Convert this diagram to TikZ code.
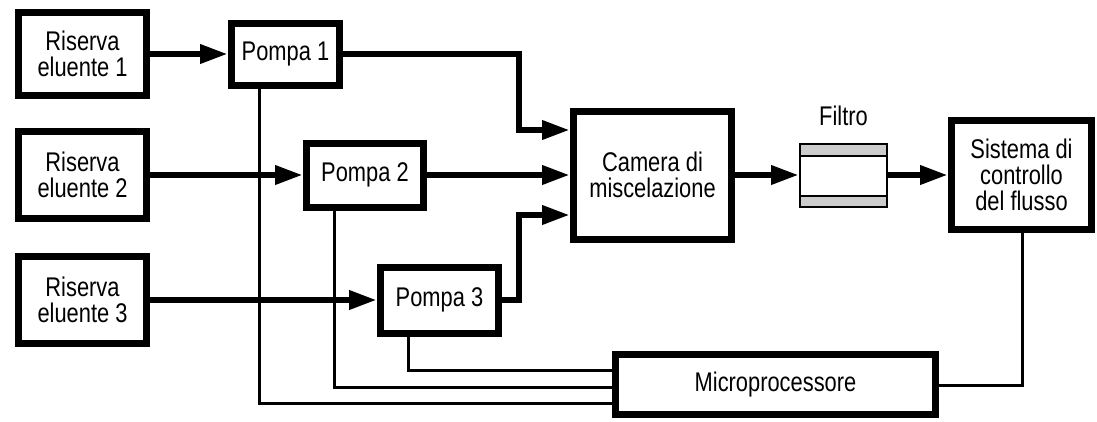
\documentclass[tikz,border=0pt]{standalone}
\usepackage{fontspec}
\setmainfont{Liberation Sans}[FakeStretch=0.81]
\usetikzlibrary{arrows.meta}
\begin{document}
\begin{tikzpicture}[x=1pt,y=-1pt,
  box/.style={draw, line width=7pt, fill=white, align=center, inner sep=0pt,
    font=\fontsize{27}{26}\selectfont},
  arr/.style={line width=6.5pt, -{Triangle[length=28pt,width=18pt]}},
  ctl/.style={line width=3pt},
  stripe/.style={fill=gray!40}]
\useasboundingbox (0,0) rectangle (1097,421);
% reservoirs
\node[box, minimum width=128pt, minimum height=83pt] (r1) at (82.5,54) {Riserva\\eluente 1};
\node[box, minimum width=128pt, minimum height=87pt] (r2) at (82.5,175) {Riserva\\eluente 2};
\node[box, minimum width=128pt, minimum height=87pt] (r3) at (82.5,300) {Riserva\\eluente 3};
% pumps
\node[box, minimum width=108pt, minimum height=62pt] (p1) at (285.5,54) {Pompa 1};
\node[box, minimum width=117pt, minimum height=64pt] (p2) at (365,175) {Pompa 2};
\node[box, minimum width=118pt, minimum height=66pt] (p3) at (439.5,300) {Pompa 3};
% mixing chamber
\node[box, minimum width=158pt, minimum height=128pt] (cam) at (652.5,175) {Camera di\\miscelazione};
% filter
\node[draw, line width=2pt, fill=white, minimum width=87pt, minimum height=63pt, inner sep=0pt,
  path picture={
    \fill[stripe] (path picture bounding box.north west) rectangle ([yshift=-12pt]path picture bounding box.north east);
    \fill[stripe] (path picture bounding box.south west) rectangle ([yshift=11pt]path picture bounding box.south east);
    \draw[line width=2pt] ([yshift=-12pt]path picture bounding box.north west) -- ([yshift=-12pt]path picture bounding box.north east);
    \draw[line width=2pt] ([yshift=11pt]path picture bounding box.south west) -- ([yshift=11pt]path picture bounding box.south east);
  }] (fil) at (843.5,175) {};
\node[anchor=base, inner sep=0pt, font=\fontsize{27}{26}\selectfont] (fill) at ([yshift=17pt]fil.north) {Filtro};
% flow control
\node[box, minimum width=140pt, minimum height=109pt] (sis) at (1021.5,175) {Sistema di\\controllo\\del flusso};
% microprocessor
\node[box, minimum width=320pt, minimum height=60pt] (mic) at (775.5,384.5) {Microprocessore};
% junction coordinates
\coordinate (j1) at (519,130);
\coordinate (j3) at (519,215);
\coordinate (k1) at (259,403);
\coordinate (k2) at (334,387);
\coordinate (k3) at (408,370);
\coordinate (k4) at (1022,385);
% control lines
\draw[ctl] (p1.south -| k1) |- (k1 -| mic.west);
\draw[ctl] (p2.south -| k2) |- (k2 -| mic.west);
\draw[ctl] (p3.south -| k3) |- (k3 -| mic.west);
\draw[ctl] (sis.south -| k4) |- (k4 -| mic.east);
% flow arrows
\draw[arr] (r1.east) -- (p1.west);
\draw[arr] (r2.east) -- (p2.west);
\draw[arr] (r3.east) -- (p3.west);
\draw[arr] (p1.east) -| (j1) -- (j1 -| cam.west);
\draw[arr] (p2.east) -- (cam.west);
\draw[arr] (p3.east) -| (j3) -- (j3 -| cam.west);
\draw[arr] (cam.east) -- (fil.west);
\draw[arr] (fil.east) -- (sis.west);
\end{tikzpicture}
\end{document}
